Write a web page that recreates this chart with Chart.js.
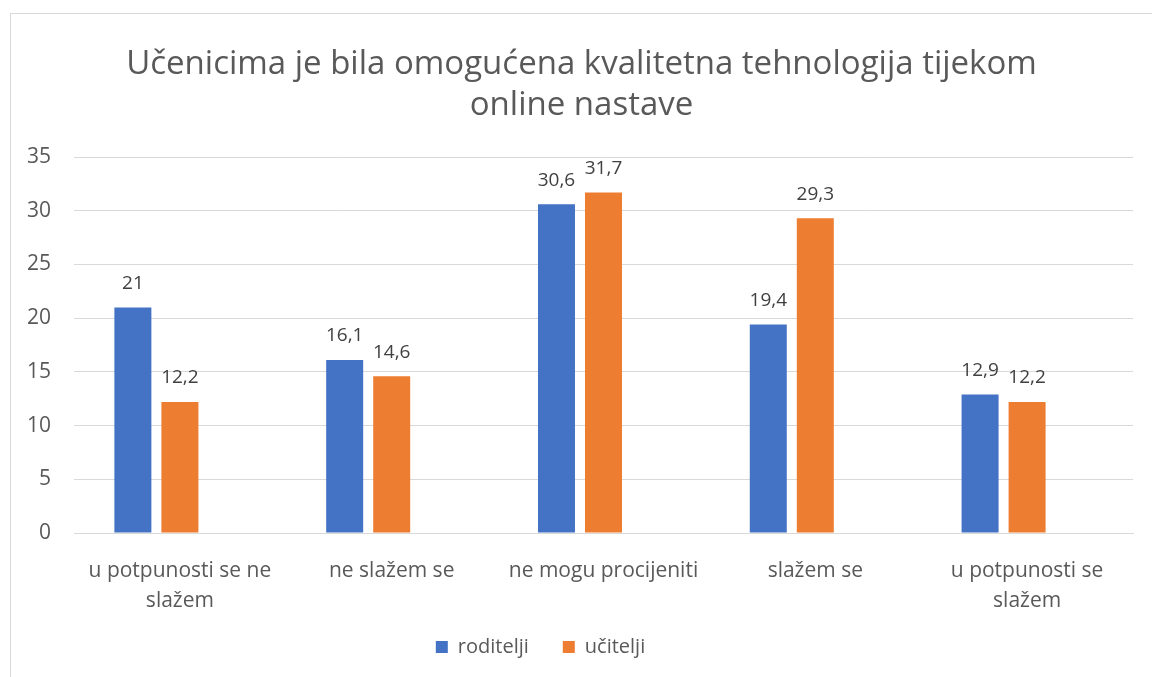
<!DOCTYPE html>
<html>
<head>
<meta charset="utf-8">
<script src="https://cdn.jsdelivr.net/npm/chart.js@4/dist/chart.umd.min.js"></script>
<style>
  html, body { margin: 0; padding: 0; background: #fff; overflow: hidden; }
  #wrap { position: relative; width: 1152px; height: 677px; }
  #frame { position: absolute; left: 10px; top: 13px; width: 1200px; height: 700px; border: 1px solid #d9d9d9; }
  #chart { position: absolute; left: 0; top: 0; }
</style>
</head>
<body>
<div id="wrap">
  <div id="frame"></div>
  <canvas id="chart" width="1152" height="677"></canvas>
</div>
<script>
// podaci
const categories = [
    ['u potpunosti se ne', 'slažem'],
    'ne slažem se',
    'ne mogu procijeniti',
    'slažem se',
    ['u potpunosti se', 'slažem']
];
const roditelji = [21, 16.1, 30.6, 19.4, 12.9];
const ucitelji = [12.2, 14.6, 31.7, 29.3, 12.2];
const prazno = [null, null, null, null, null]; // treća (prazna) serija iz Excela
const yTicks = [0, 5, 10, 15, 20, 25, 30, 35];

const fontFam = "'Open Sans', 'Noto Sans', sans-serif";

// oznake vrijednosti iznad stupaca
const valueLabels = {
    id: 'valueLabels',
    afterDatasetsDraw(chart) {
        const ctx = chart.ctx;
        ctx.save();
        ctx.font = '19px ' + fontFam;
        ctx.fillStyle = '#404040';
        ctx.textAlign = 'center';
        ctx.textBaseline = 'middle';
        chart.data.datasets.forEach((ds, i) => {
            if (ds.label === '') return;
            chart.getDatasetMeta(i).data.forEach((bar, j) => {
                const v = ds.data[j];
                if (v == null) return;
                ctx.fillText(String(v).replace('.', ','), bar.x, bar.y - 24);
            });
        });
        ctx.restore();
    }
};

// pomaci legende i naslova kao u originalu
const boxShift = {
    id: 'boxShift',
    afterLayout(chart) {
        const lg = chart.legend;
        lg.left -= 26;
        lg.right -= 26;
        lg.top -= 7;
        lg.bottom -= 7;
        chart.titleBlock.left += 15;
        chart.titleBlock.right += 15;
    }
};

new Chart(document.getElementById('chart'), {
    type: 'bar',
    data: {
        labels: categories,
        datasets: [
            { label: 'roditelji', data: roditelji, backgroundColor: '#4472C4' },
            { label: 'učitelji', data: ucitelji, backgroundColor: '#ED7D31' },
            { label: '', data: prazno, backgroundColor: 'rgba(0,0,0,0)' }
        ]
    },
    options: {
        responsive: false,
        animation: false,
        events: [],
        layout: { padding: { left: 0, right: 19, top: 0, bottom: 3 } },
        datasets: {
            bar: { categoryPercentage: 0.666, barPercentage: 0.787 }
        },
        plugins: {
            title: {
                display: true,
                text: ['Učenicima je bila omogućena kvalitetna tehnologija tijekom', 'online nastave'],
                color: '#595959',
                font: { family: fontFam, size: 33, weight: 'normal', lineHeight: 41 / 33 },
                padding: { top: 44, bottom: 31 }
            },
            legend: {
                position: 'bottom',
                labels: {
                    filter: item => item.text !== '',
                    color: '#595959',
                    font: { family: fontFam, size: 20 },
                    boxWidth: 12,
                    boxHeight: 12,
                    padding: 34
                }
            },
            tooltip: { enabled: false }
        },
        scales: {
            x: {
                grid: { display: false },
                border: { display: true, color: '#d9d9d9' },
                ticks: {
                    color: '#595959',
                    font: { family: fontFam, size: 21, lineHeight: 30 / 21 },
                    padding: 15,
                    maxRotation: 0,
                    autoSkip: false
                },
                afterFit: s => { s.height = 77; }
            },
            y: {
                min: 0,
                max: 35,
                afterBuildTicks: s => { s.ticks = yTicks.map(v => ({ value: v })); },
                grid: { color: '#d9d9d9', drawTicks: false },
                border: { display: false },
                ticks: {
                    color: '#595959',
                    font: { family: fontFam, size: 21 },
                    padding: 23
                },
                afterFit: s => { s.width = 74; }
            }
        }
    },
    plugins: [valueLabels, boxShift]
});
</script>
</body>
</html>
